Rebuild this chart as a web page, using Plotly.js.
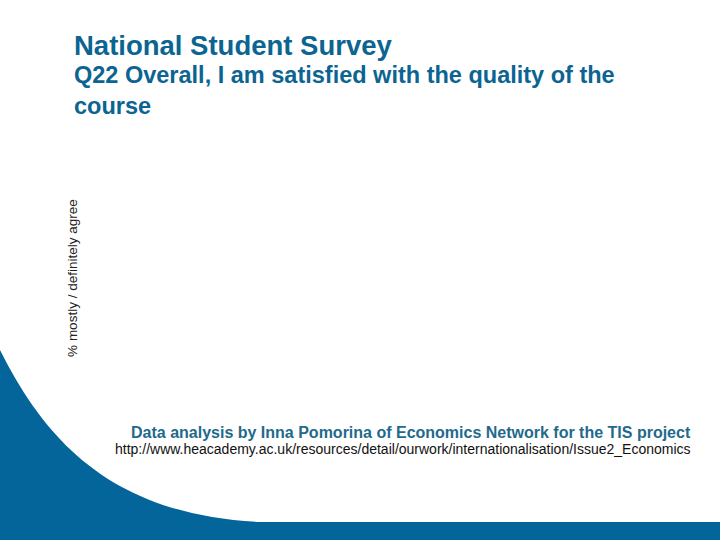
<!DOCTYPE html>
<html>
<head>
<meta charset="utf-8">
<script src="https://cdn.plot.ly/plotly-3.0.1.min.js"></script>
<style>
html, body {margin: 0; padding: 0; background: #ffffff;}
#chart {width: 720px; height: 540px;}
</style>
</head>
<body>
<div id="chart"></div>
<script>
// The reference slide shows an empty chart: only the axis title is drawn, no bars.
var categories = [];
var agreeValues = [];

var titleText = 'National Student Survey';
var questionText = 'Q22 Overall, I am satisfied with the quality of the<br>course';
var yTitle = '% mostly / definitely agree';
var creditText = 'Data analysis by Inna Pomorina of Economics Network for the TIS project';
var urlText = 'http://www.heacademy.ac.uk/resources/detail/ourwork/internationalisation/Issue2_Economics';

var W = 720, H = 540;
// pixel -> paper (margins are zero so paper is the whole page)
function px(x, y){ return (x / W).toFixed(4) + ',' + (1 - y / H).toFixed(4); }

// Blue swoosh of the slide template, bottom left, plus the band at the bottom.
var swoosh = 'M' + px(0, 350) +
  ' C' + px(50, 450) + ' ' + px(120, 515) + ' ' + px(260, 522) +
  ' L' + px(720, 522) + ' L' + px(720, 540) + ' L' + px(0, 540) + ' Z';

var graph_data = [{
  type: 'bar',
  x: categories,
  y: agreeValues,
  marker: {color: '#04659a'},
  showlegend: false
}];

var layout = {
  width: W,
  height: H,
  margin: {l: 0, r: 0, t: 0, b: 0},
  paper_bgcolor: '#ffffff',
  plot_bgcolor: 'rgba(0,0,0,0)',
  font: {family: 'Liberation Sans, Arial, sans-serif', color: '#222222'},
  xaxis: {
    domain: [0.125, 0.97],
    showgrid: false, zeroline: false, showline: false,
    showticklabels: false, ticks: '', automargin: false
  },
  yaxis: {
    domain: [0.23, 0.74],
    showgrid: false, zeroline: false, showline: false,
    showticklabels: false, ticks: '', automargin: false,
    title: {text: yTitle, font: {size: 13.5, color: '#222222'}, standoff: 8}
  },
  shapes: [{
    type: 'path', xref: 'paper', yref: 'paper', path: swoosh,
    fillcolor: '#04659a', line: {width: 0}, layer: 'below'
  }],
  annotations: [
    {text: '<b>' + titleText + '</b>', xref: 'paper', yref: 'paper',
     x: 72 / W, y: 1 - 45 / H, xanchor: 'left', yanchor: 'middle', showarrow: false,
     font: {size: 27.5, color: '#0b6491'}},
    {text: '<b>' + questionText + '</b>', xref: 'paper', yref: 'paper',
     x: 72 / W, y: 1 - 90.5 / H, xanchor: 'left', yanchor: 'middle', align: 'left', showarrow: false,
     font: {size: 23.5, color: '#0b6491'}},
    {text: '<b>' + creditText + '</b>', xref: 'paper', yref: 'paper',
     x: 693 / W, y: 1 - 432 / H, xanchor: 'right', yanchor: 'middle', showarrow: false,
     font: {size: 16, color: '#1f6a8c'}},
    {text: urlText, xref: 'paper', yref: 'paper',
     x: 693 / W, y: 1 - 449 / H, xanchor: 'right', yanchor: 'middle', showarrow: false,
     font: {size: 14, color: '#111111'}}
  ]
};

Plotly.newPlot('chart', graph_data, layout, {displayModeBar: false, staticPlot: true});
</script>
</body>
</html>
